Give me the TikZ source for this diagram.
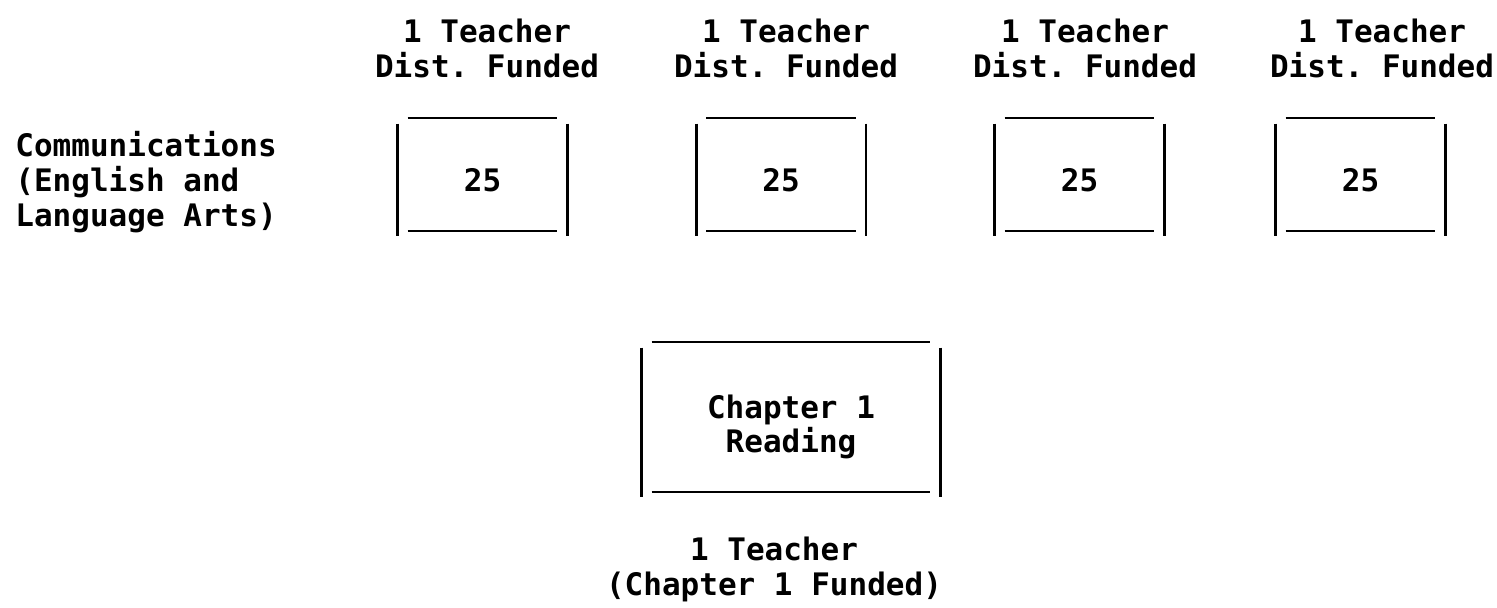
\documentclass[tikz,border=0pt]{standalone}
\usepackage{fontspec}
\setmonofont{DejaVu Sans Mono}
\usetikzlibrary{calc}

% open frame: heavy uprights, lighter rules set slightly inside and above
\newcommand{\openframe}[1]{%
  \draw[upright] (#1.north west) -- (#1.south west);
  \draw[upright] (#1.north east) -- (#1.south east);
  \draw[rule] ($(#1.north west)+(10,-6)$) -- ($(#1.north east)+(-10,-6)$);
  \draw[rule] ($(#1.south west)+(10,-5)$) -- ($(#1.south east)+(-10,-5)$);
}

\begin{document}
\begin{tikzpicture}[x=0.5pt,y=-0.5pt,
  txt/.style={font=\ttfamily\bfseries\fontsize{15.5}{17.5}\selectfont, inner sep=0pt, align=center},
  frame/.style={inner sep=0pt, minimum width=84.5pt, minimum height=56pt,
    font=\ttfamily\bfseries\fontsize{15.5}{17.5}\selectfont},
  bigframe/.style={inner sep=0pt, minimum width=149pt, minimum height=74.5pt,
    font=\ttfamily\bfseries\fontsize{15.5}{15}\selectfont, align=center},
  upright/.style={line width=1.4pt, line cap=butt},
  rule/.style={line width=1pt, line cap=butt}]
\useasboundingbox (0,0) rectangle (1497,607);

% subject label
\node[txt, align=left, anchor=west] (subj) at (15,182)
  {Communications\\(English and\\Language Arts)};

% class boxes with teacher labels
\node[frame] (c1) at (482.5,180) {25};
\node[frame] (c2) at (781,180) {25};
\node[frame] (c3) at (1079.5,180) {25};
\node[frame] (c4) at (1360.5,180) {25};
\openframe{c1}
\openframe{c2}
\openframe{c3}
\openframe{c4}

\node[txt] (t1) at (487,48) {1 Teacher\\Dist. Funded};
\node[txt] (t2) at (786,48) {1 Teacher\\Dist. Funded};
\node[txt] (t3) at (1085,48) {1 Teacher\\Dist. Funded};
\node[txt] (t4) at (1382,48) {1 Teacher\\Dist. Funded};

% reading box
\node[bigframe] (ch) at (791,422.5) {};
\openframe{ch}
\node[bigframe, minimum width=0pt, minimum height=0pt] (chtxt) at (791,427) {Chapter 1\\Reading};
\node[txt] (tch) at (774,569) {1 Teacher\\(Chapter 1 Funded)};
\end{tikzpicture}
\end{document}
